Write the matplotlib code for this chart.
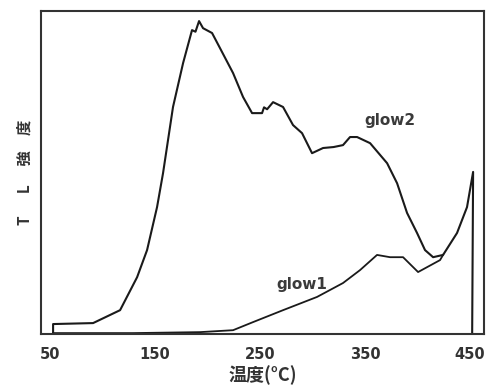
import matplotlib.pyplot as plt

plt.rcParams['font.family'] = ['Noto Sans CJK JP', 'DejaVu Sans']

# glow curves (temperature in deg C, TL intensity in arbitrary units)
glow2_temp = [52.9, 52.9, 91, 116.7, 132.9, 142.4, 151.9, 157.6, 167.1, 176.7,
              185.2, 188.5, 191.9, 195.7, 204.3, 211.9, 224.3, 233.8, 242.4, 251.9,
              253.8, 256.7, 262.4, 271.9, 281.4, 290, 299.5, 310, 320, 329,
              335.7, 342.4, 354.8, 371, 380.5, 390, 399.5, 407.1, 414.8, 424.3,
              437.6, 447.1, 452.9, 452]
glow2_tl = [0.3, 3.1, 3.4, 7.4, 17.6, 26, 39.3, 49.8, 70.3, 83.9,
            94.1, 93.6, 96.9, 94.7, 93.2, 88.5, 80.8, 73.4, 68.4, 68.4,
            70.2, 69.6, 71.8, 70.3, 64.7, 62.2, 56, 57.6, 57.9, 58.5,
            61, 61, 59.1, 52.9, 46.7, 37.5, 31.3, 26, 23.8, 24.5,
            31.3, 39.3, 50.2, 0]

glow1_temp = [52.9, 129, 192.9, 224.3, 243.3, 271.9, 304.3, 329, 345.2, 361.4,
              373.8, 386.2, 400.5, 421.4, 424.3]
glow1_tl = [0.3, 0.3, 0.6, 1.2, 3.7, 7.4, 11.5, 15.8, 19.8, 24.5,
            23.8, 23.8, 19.2, 22.9, 24.5]

xticks = [50, 150, 250, 350, 450]

fig = plt.figure(figsize=(4.93, 3.88), dpi=100)
ax = fig.add_axes([0.0832, 0.139, 0.8986, 0.8325])

ax.plot(glow2_temp, glow2_tl, color='#1a1a1a', lw=1.5)
ax.plot(glow1_temp, glow1_tl, color='#1a1a1a', lw=1.3)

ax.text(374, 66, 'glow2', fontsize=11, fontweight='bold', ha='center', va='center',
        color='#3a3a3a', family='DejaVu Sans')
ax.text(290, 15.2, 'glow1', fontsize=11, fontweight='bold', ha='center', va='center',
        color='#3a3a3a', family='DejaVu Sans')

ax.set_xlim(41.4, 463.3)
ax.set_ylim(0, 100)
ax.set_xticks(xticks)
ax.set_xticklabels([str(t) for t in xticks], family='DejaVu Sans', fontweight='bold')
ax.set_yticks([])
ax.tick_params(axis='x', length=0, pad=9, labelsize=10.5, colors='#333333')

for side in ax.spines.values():
    side.set_color('#333333')
    side.set_linewidth(1.5)

ax.set_xlabel('温度(°C)', fontsize=13, fontweight='bold', labelpad=3, color='#333333')
ax.set_ylabel('T\u3000  L\u3000 強\u3000度', fontsize=11, fontweight='bold',
              labelpad=6, color='#333333')

fig.savefig('out.png', dpi=100)
